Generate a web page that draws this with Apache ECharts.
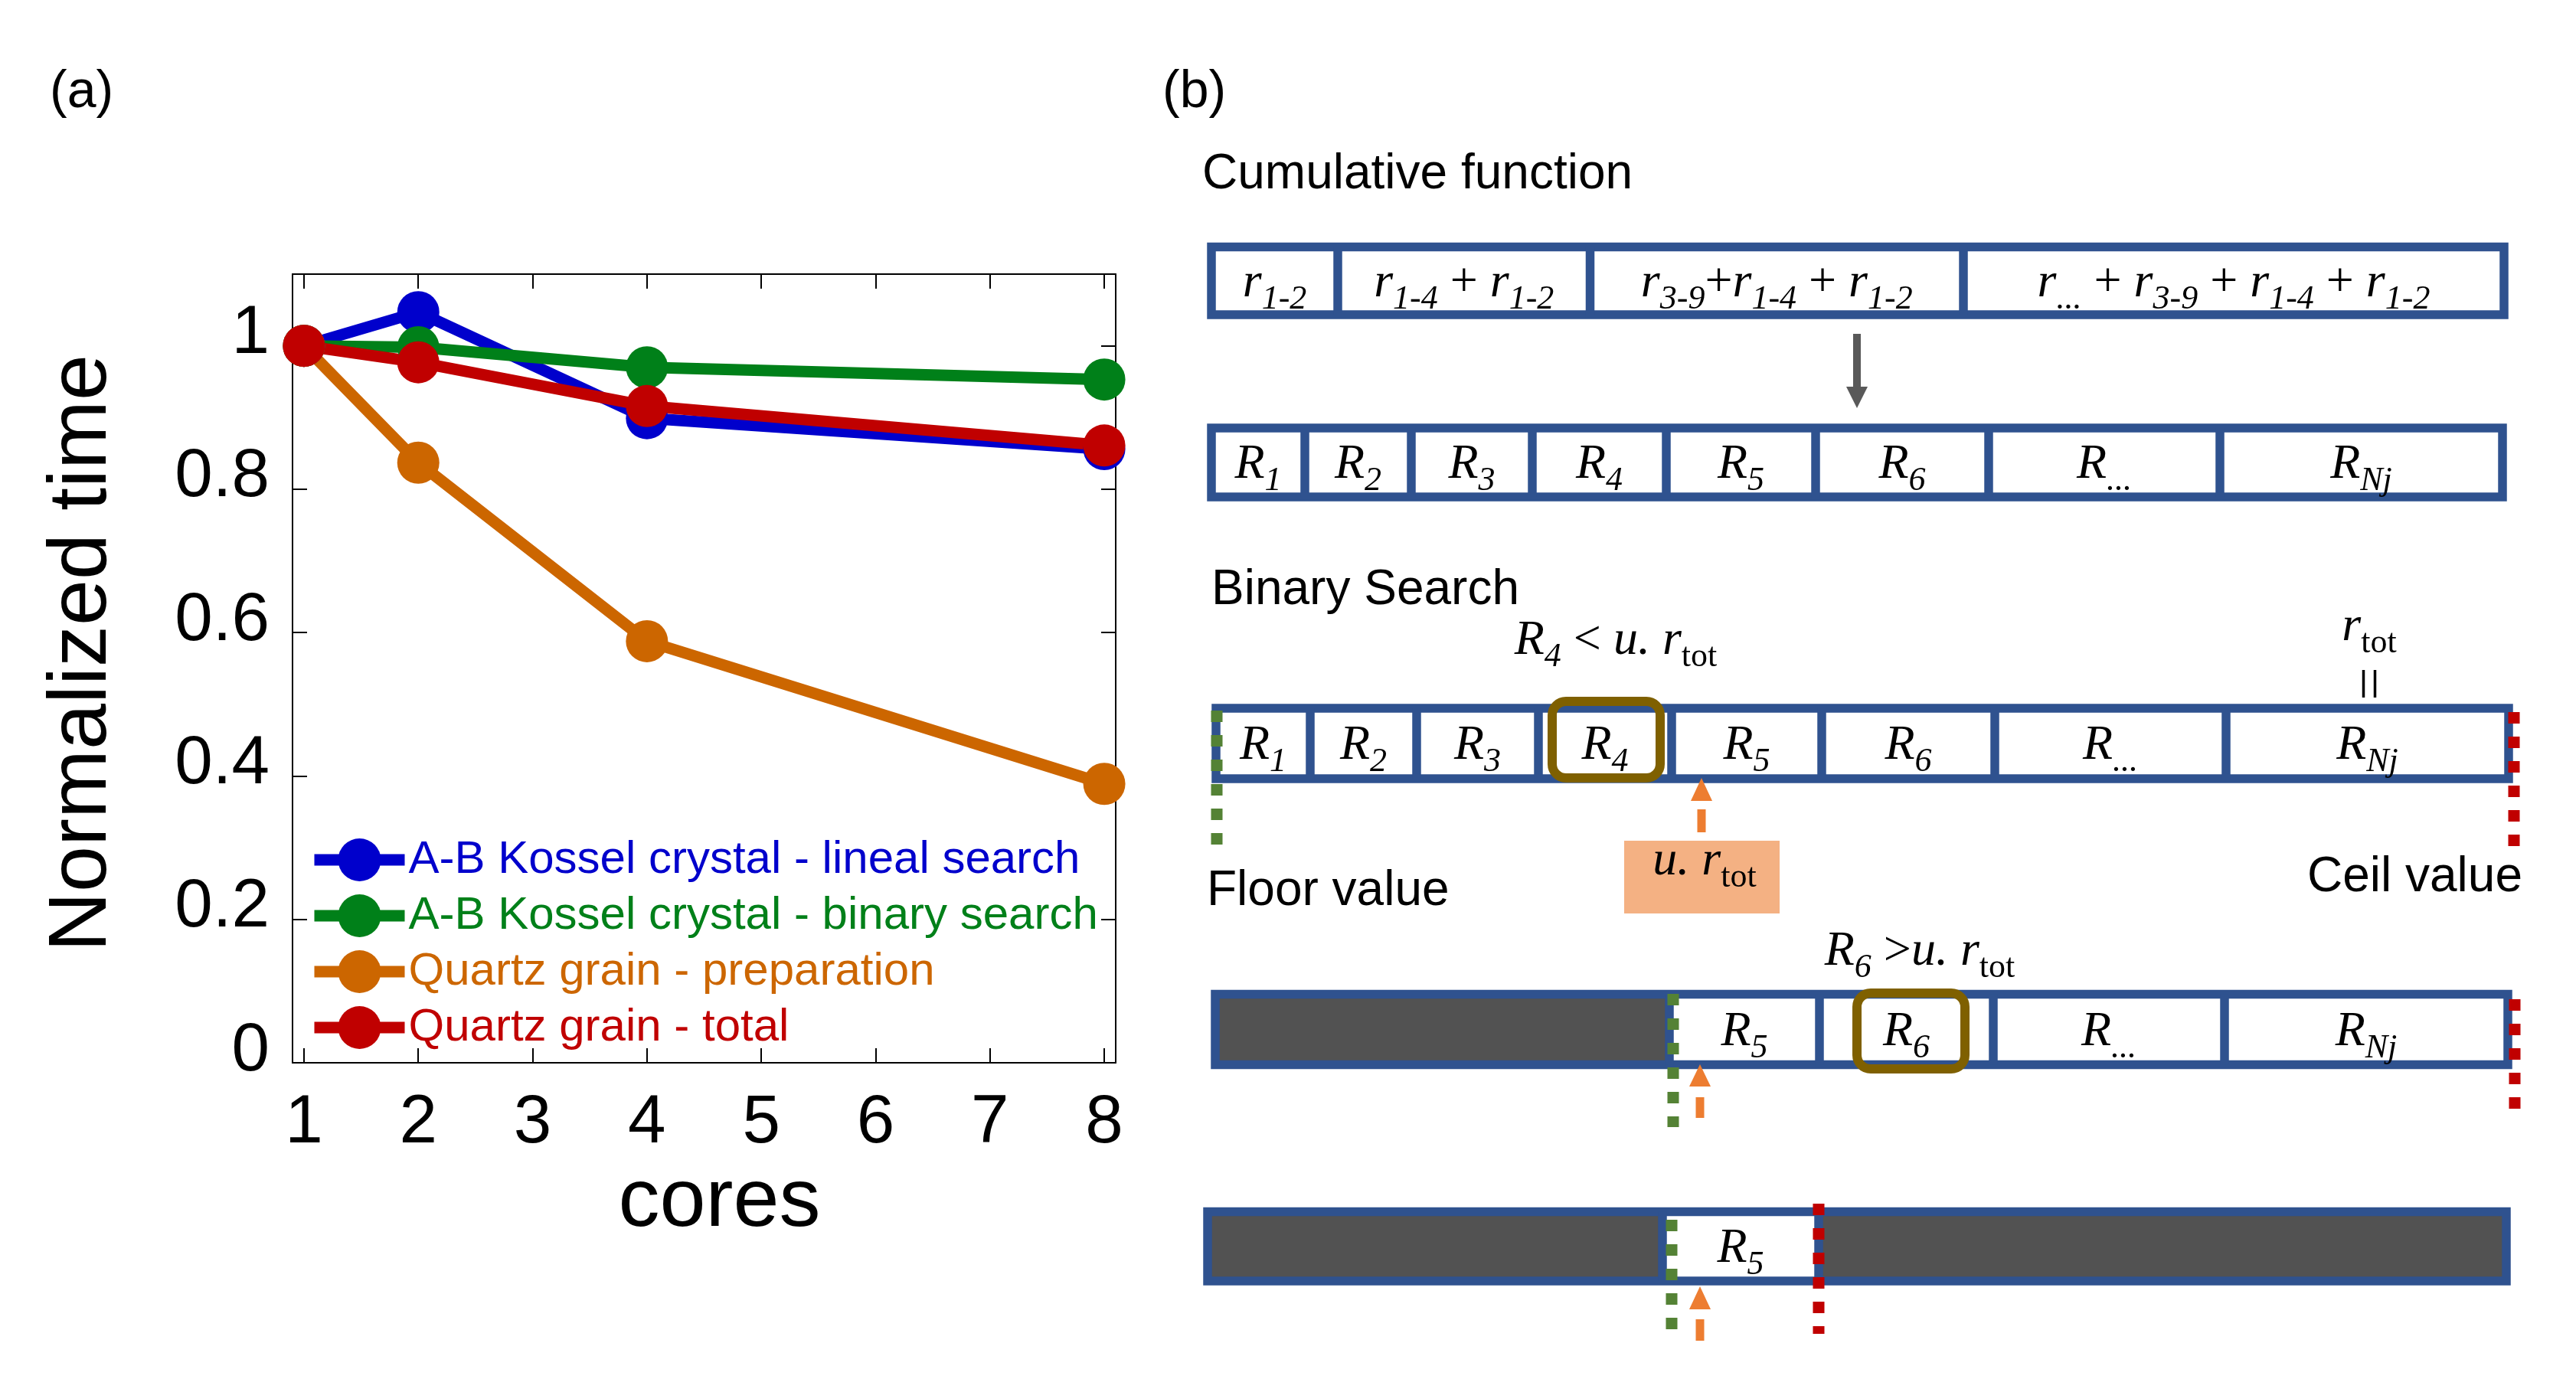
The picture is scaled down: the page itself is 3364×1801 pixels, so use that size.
<!DOCTYPE html>
<html><head><meta charset="utf-8">
<script src="https://cdn.jsdelivr.net/npm/echarts@6/dist/echarts.min.js"></script>
<style>html,body{margin:0;padding:0;background:#fff}#c{width:3364px;height:1801px}</style>
</head><body><div id="c"></div>
<script>
// ---------- data ----------
const cores = [1, 2, 4, 8];
const linealSearch = [1.0, 1.047, 0.899, 0.856];
const binarySearch = [1.0, 0.998, 0.970, 0.953];
const quartzPreparation = [1.0, 0.837, 0.588, 0.389];
const quartzTotal = [1.0, 0.977, 0.916, 0.861];
const seriesNames = ['A-B Kossel crystal - lineal search', 'A-B Kossel crystal - binary search', 'Quartz grain - preparation', 'Quartz grain - total'];
const xTicks = [1, 2, 3, 4, 5, 6, 7, 8];
const yTicks = [0, 0.2, 0.4, 0.6, 0.8, 1];
const yTickLabels = ['0', '0.2', '0.4', '0.6', '0.8', '1'];
const cumulativeTerms = [['1-2'], ['1-4', '1-2'], ['3-9', '1-4', '1-2'], ['...', '3-9', '1-4', '1-2']];
const cellIndices = ['1', '2', '3', '4', '5', '6', '...', 'Nj'];

// ---------- styles ----------
const COLORS = ['#0000CC', '#008019', '#CC6600', '#C00000'];
const SANS = '"Liberation Sans", Arial, sans-serif';
const SERIF = '"Liberation Serif", "DejaVu Serif", serif';
const BLUE = '#2F528F', DARK = '#525252', OLIVE = '#7F6000', ORANGE = '#ED7D31', GREEN = '#548235', RED = '#C00000';
const LW = 11.5;

const RICH = {
  i: { fontFamily: SERIF, fontStyle: 'italic', fontSize: 64, verticalAlign: 'top', fill: '#000' },
  u: { fontFamily: SERIF, fontSize: 64, verticalAlign: 'top', fill: '#000' },
  si: { fontFamily: SERIF, fontStyle: 'italic', fontSize: 44, verticalAlign: 'top', padding: [31, 0, 0, 0], fill: '#000' },
  su: { fontFamily: SERIF, fontSize: 44, verticalAlign: 'top', padding: [31, 0, 0, 0], fill: '#000' }
};

const els = [];
function mtext(cx, baseline, tokens) {
  return { type: 'text', x: cx, y: baseline - 51.5, silent: true,
    style: { text: tokens.map(t => '{' + t[0] + '|' + t[1] + '}').join(''), x: 0, y: 0,
      align: 'center', verticalAlign: 'top', textAlign: 'center', textVerticalAlign: 'top', rich: RICH, fill: '#000' } };
}
function ptext(x, y, s, size, align) {
  return { type: 'text', x: x, y: y, silent: true,
    style: { text: s, x: 0, y: 0, fontSize: size, fontFamily: SANS, fill: '#000',
      align: align || 'left', verticalAlign: 'middle', textAlign: align || 'left', textVerticalAlign: 'middle' } };
}
function rLabel(idx) { return [['i', 'R'], ['si', idx]]; }
function row(xs, y1, y2, grays, labels) {
  grays.forEach(([a, b]) => els.push({ type: 'rect', shape: { x: a, y: y1, width: b - a, height: y2 - y1 }, style: { fill: DARK } }));
  els.push({ type: 'rect', shape: { x: xs[0], y: y1, width: xs[xs.length - 1] - xs[0], height: y2 - y1 }, style: { fill: 'none', stroke: BLUE, lineWidth: LW } });
  for (let k = 1; k < xs.length - 1; k++) els.push({ type: 'line', shape: { x1: xs[k], y1: y1, x2: xs[k], y2: y2 }, style: { stroke: BLUE, lineWidth: LW } });
  labels.forEach((lab, k) => { if (lab) els.push(mtext((xs[k] + xs[k + 1]) / 2, (y1 + y2) / 2 + 23, lab)); });
}
function dotted(x, ya, yb, color) {
  els.push({ type: 'line', shape: { x1: x, y1: ya, x2: x, y2: yb }, style: { stroke: color, lineWidth: 15, lineDash: [15, 17] } });
}
function upArrow(x, tip, base, d1, d2) {
  els.push({ type: 'polygon', shape: { points: [[x - 14, base], [x + 14, base], [x, tip]] }, style: { fill: ORANGE } });
  els.push({ type: 'rect', shape: { x: x - 5.5, y: d1, width: 11, height: d2 - d1 }, style: { fill: ORANGE } });
}
function olive(x1, y1, x2, y2) {
  els.push({ type: 'rect', shape: { x: x1, y: y1, width: x2 - x1, height: y2 - y1, r: 18 }, style: { fill: 'none', stroke: OLIVE, lineWidth: 12 } });
}

// panel labels and headings
els.push(ptext(65, 121, '(a)', 68));
els.push(ptext(1518, 121, '(b)', 68));
els.push(ptext(1570, 228, 'Cumulative function', 64));
els.push(ptext(1582, 771, 'Binary Search', 64));
els.push(ptext(1576, 1164, 'Floor value', 64));
els.push(ptext(3294, 1146, 'Ceil value', 64, 'right'));

// row 1: cumulative sums
const cumLabels = cumulativeTerms.map((terms, ci) => {
  const t = [];
  terms.forEach((s, k) => {
    if (k > 0) t.push(['u', (ci === 2 && k === 1) ? '+' : ' + ']);
    t.push(['i', 'r']); t.push(['si', s]);
  });
  return t;
});
row([1582, 1747, 2076.5, 2564, 3270], 322.5, 411, [], cumLabels);

// arrow down
els.push({ type: 'rect', shape: { x: 2420, y: 436, width: 10, height: 70 }, style: { fill: '#595959' } });
els.push({ type: 'polygon', shape: { points: [[2411, 505], [2439, 505], [2425, 533]] }, style: { fill: '#595959' } });

// row 2
row([1582, 1704, 1843, 2001, 2176, 2371, 2597, 2899, 3268], 559, 649, [], cellIndices.map(rLabel));

// row 3
row([1588, 1711, 1850, 2009, 2183, 2379, 2605, 2907, 3276], 925, 1017, [], cellIndices.map(rLabel));
olive(2027, 916, 2168, 1016);
dotted(1589, 928, 1106, GREEN);
dotted(3283, 930, 1106, RED);
upArrow(2222, 1016, 1046, 1057, 1087);
els.push({ type: 'rect', shape: { x: 2121, y: 1098, width: 203, height: 95 }, style: { fill: '#F4B183' } });
els.push(mtext(2226, 1145, [['i', 'u. r'], ['su', 'tot']]));
els.push(mtext(2110, 857, [['i', 'R'], ['si', '4'], ['u', ' < '], ['i', 'u. r'], ['su', 'tot']]));
els.push(mtext(3094, 839, [['i', 'r'], ['su', 'tot']]));
els.push({ type: 'line', shape: { x1: 3086.5, y1: 875, x2: 3086.5, y2: 911 }, style: { stroke: '#000', lineWidth: 3.5 } });
els.push({ type: 'line', shape: { x1: 3101.5, y1: 875, x2: 3101.5, y2: 911 }, style: { stroke: '#000', lineWidth: 3.5 } });

// row 4
row([1587, 2180, 2376, 2603, 2905, 3275], 1298.5, 1390.5, [[1587, 2180]], [null].concat(cellIndices.slice(4).map(rLabel)));
olive(2425, 1297, 2566, 1396);
els.push(mtext(2507, 1263, [['i', 'R'], ['si', '6'], ['u', ' >'], ['i', 'u. r'], ['su', 'tot']]));
dotted(2185, 1298, 1472, GREEN);
dotted(3284, 1305, 1452, RED);
upArrow(2220, 1390, 1419, 1433, 1460);

// row 5
row([1577, 2171, 2375, 3273], 1582.5, 1673, [[1577, 2171], [2375, 3273]], [null, rLabel(cellIndices[4]), null]);
dotted(2183, 1593, 1740, GREEN);
dotted(2375, 1572, 1742, RED);
upArrow(2220, 1680, 1710, 1723, 1751);

// ---------- chart ----------
const chart = echarts.init(document.getElementById('c'), null, { renderer: 'canvas' });
const allSeries = [linealSearch, binarySearch, quartzPreparation, quartzTotal];
const axisCommon = {
  type: 'value', splitLine: { show: false },
  axisLine: { show: true, onZero: false, lineStyle: { color: '#000', width: 2 } },
  axisTick: { show: true, inside: true, length: 19, lineStyle: { color: '#000', width: 2 } }
};
const fmtY = v => { const k = yTicks.findIndex(t => Math.abs(t - v) < 1e-9); return k >= 0 ? yTickLabels[k] : ''; };
chart.setOption({
  animation: false,
  backgroundColor: '#fff',
  grid: { left: 382, top: 358, width: 1075, height: 1030, containLabel: false },
  xAxis: [
    Object.assign({}, axisCommon, { position: 'bottom', min: 0.9, max: 8.1,
      axisTick: Object.assign({}, axisCommon.axisTick, { customValues: xTicks }),
      axisLabel: { customValues: xTicks, fontSize: 89, fontFamily: SANS, color: '#000', margin: 35 },
      name: 'cores', nameLocation: 'middle', nameGap: 128,
      nameTextStyle: { fontSize: 108, fontFamily: SANS, color: '#000', padding: [0, 0, 0, 40] } }),
    Object.assign({}, axisCommon, { position: 'top', min: 0.9, max: 8.1,
      axisTick: Object.assign({}, axisCommon.axisTick, { customValues: xTicks }),
      axisLabel: { show: false } })
  ],
  yAxis: [
    Object.assign({}, axisCommon, { position: 'left', min: 0, max: 1.1,
      axisTick: Object.assign({}, axisCommon.axisTick, { customValues: yTicks }),
      axisLabel: { customValues: yTicks, formatter: fmtY, fontSize: 89, fontFamily: SANS, color: '#000', margin: 30,
        verticalAlign: 'bottom', lineHeight: 30 },
      name: 'Normalized time', nameLocation: 'middle', nameGap: 220,
      nameTextStyle: { fontSize: 108, fontFamily: SANS, color: '#000', padding: [0, 0, 0, 40] } }),
    Object.assign({}, axisCommon, { position: 'right', min: 0, max: 1.1,
      axisTick: Object.assign({}, axisCommon.axisTick, { customValues: yTicks }),
      axisLabel: { show: false } })
  ],
  legend: {
    orient: 'vertical', left: 403, top: 1093, padding: 0,
    itemWidth: 118, itemHeight: 70, itemGap: 13, selectedMode: false,
    lineStyle: { width: 15 },
    textStyle: { fontSize: 60, fontFamily: SANS },
    data: seriesNames.map((n, i) => ({ name: n, textStyle: { color: COLORS[i] } }))
  },
  series: allSeries.map((vals, i) => ({
    name: seriesNames[i], type: 'line', xAxisIndex: 0, yAxisIndex: 0,
    data: cores.map((c, k) => [c, vals[k]]),
    symbol: 'circle', symbolSize: 55,
    lineStyle: { color: COLORS[i], width: 15 },
    itemStyle: { color: COLORS[i] },
    emphasis: { disabled: true }
  })),
  graphic: { elements: els }
});
</script></body></html>
